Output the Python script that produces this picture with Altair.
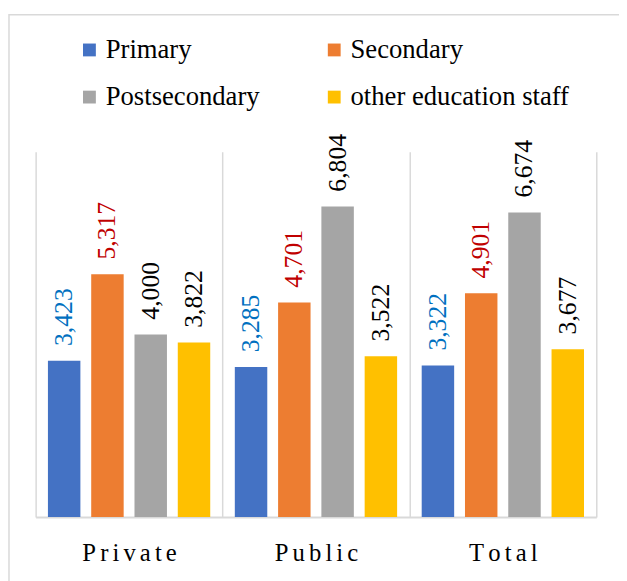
import altair as alt
import pandas as pd

groups = ["Private", "Public", "Total"]
series = ["Primary", "Secondary", "Postsecondary", "other education staff"]
primary = [3423, 3285, 3322]
secondary = [5317, 4701, 4901]
postsecondary = [4000, 6804, 6674]
other_staff = [3822, 3522, 3677]

bar_colors = ["#4472C4", "#ED7D31", "#A5A5A5", "#FFC000"]
label_colors = ["#0070C0", "#C00000", "#000000", "#000000"]

rows = []
for s, vals in zip(series, [primary, secondary, postsecondary, other_staff]):
    for g, v in zip(groups, vals):
        rows.append({"group": g, "series": s, "value": v})
df = pd.DataFrame(rows)

FONT = "Liberation Serif"
W, H = 568, 370

x = alt.X("group:N", sort=groups, title=None,
          scale=alt.Scale(paddingInner=0, paddingOuter=0),
          axis=alt.Axis(labelAngle=0, labelFont=FONT, labelFontSize=25, labelColor="#000000",
                        labelPadding=24, ticks=False, grid=True, tickBand="extent",
                        gridColor="#d9d9d9", gridWidth=1.5, domainColor="#d9d9d9", domainWidth=2,
                        labelExpr="join(split(datum.label, ''), '\u2006')"))
xo = alt.XOffset("series:N", sort=series, scale=alt.Scale(paddingInner=0.25, paddingOuter=0.284))
y = alt.Y("value:Q", axis=None, scale=alt.Scale(domain=[0, 8000]))

bars = alt.Chart(df).mark_bar().encode(
    x=x, xOffset=xo, y=y,
    color=alt.Color("series:N", sort=series, scale=alt.Scale(domain=series, range=bar_colors),
                    legend=alt.Legend(title=None, orient="none", legendX=41, legendY=-117,
                                      direction="horizontal", columns=2, columnPadding=62, rowPadding=20,
                                      symbolType="square", symbolSize=169, symbolStrokeWidth=0,
                                      labelFont=FONT, labelFontSize=27, labelColor="#000000",
                                      labelLimit=400, labelOffset=3, padding=0)),
)

labels = alt.Chart(df).mark_text(angle=270, align="left", baseline="middle", dx=15,
                                 font=FONT, fontSize=26).encode(
    x=x, xOffset=xo, y=y,
    text=alt.Text("value:Q", format=",.0f"),
    color=alt.Color("series:N", sort=series, scale=alt.Scale(domain=series, range=label_colors),
                    legend=None),
)

frame = alt.Chart(alt.Data(values=[{}])).mark_rect(filled=False, stroke="#d9d9d9", strokeWidth=1.5).encode(
    x=alt.value(-27), x2=alt.value(640), y=alt.value(-139), y2=alt.value(460)
)

chart = alt.layer(frame, bars, labels).resolve_scale(color="independent").properties(
    width=W, height=H,
    autosize=alt.AutoSizeParams(type="none"),
    padding={"left": 28, "top": 142, "right": 23, "bottom": 61},
).configure_view(stroke=None)

chart.save("out.html", embed_options={"renderer": "svg", "actions": False})
